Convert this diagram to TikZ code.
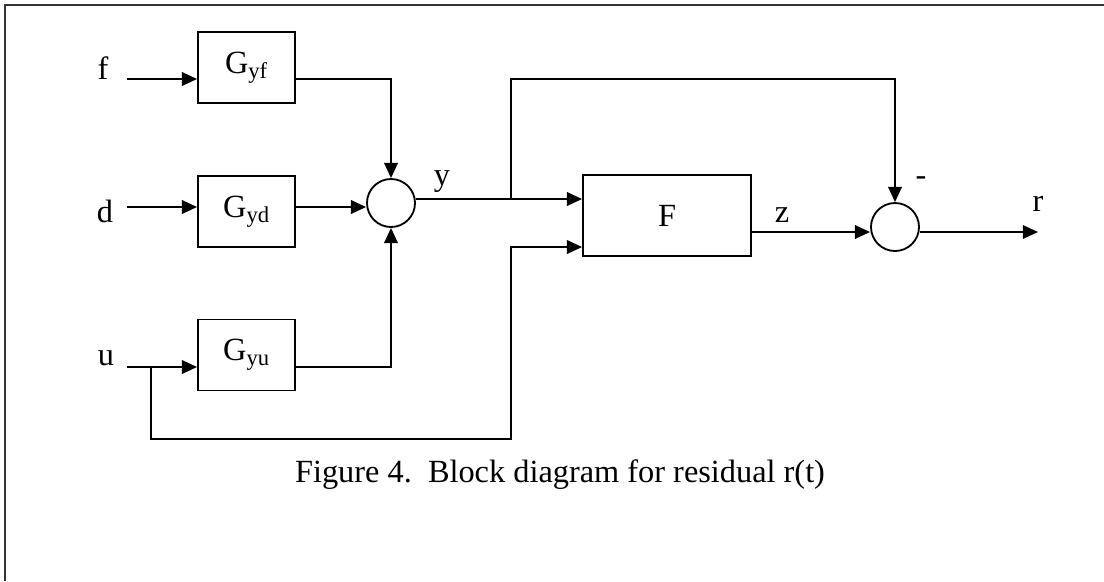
\documentclass[tikz,border=0pt]{standalone}
\usepackage{fontspec}
\setmainfont{Liberation Serif}
\usepackage{tikz}
\usetikzlibrary{arrows.meta,calc}
\definecolor{ink}{RGB}{0,0,0}
\tikzset{
  sig/.style={line width=1.3pt,ink,-{Triangle[length=3.8mm,width=3.4mm]}},
  frame/.style={line width=1.5pt,ink!80},
  blockbox/.style={draw=ink,line width=1.3pt,minimum width=2.425cm,
    minimum height=1.775cm,inner sep=0pt,font=\fontsize{23}{27}\selectfont},
  sumnode/.style={circle,draw=ink,line width=1.3pt,minimum size=1.2cm,inner sep=0pt},
  label/.style={font=\fontsize{23}{27}\selectfont,text=ink,inner sep=0pt}
}

\begin{document}
\begin{tikzpicture}[x=0.025cm,y=-0.025cm]
  \useasboundingbox (0,0) rectangle (1104,581);
  \draw[frame] (5,581) |- (1104,5);
  % blocks
  \node[blockbox] (gyf) at (246.5,67.5) {G\textsubscript{yf}};
  \node[blockbox] (gyd) at (246.5,211.5) {G\textsubscript{yd}};
  \node[blockbox] (gyu) at (246.5,355) {G\textsubscript{yu}};
  \node[blockbox,minimum width=4.2cm,minimum height=2.025cm] (filt) at (667,215.5) {F};
  \node[sumnode] (sum1) at (391,203) {};
  \node[sumnode] (sum2) at (895,227) {};
  % signal names
  \node[label] (lf) at (103,68) {f};
  \node[label] (ld) at (105,211) {d};
  \node[label] (lu) at (106,358) {u};
  \node[label] (ly) at (442,182) {y};
  \node[label] (lz) at (782,215) {z};
  \node[label] (lr) at (1038,204) {r};
  \node[label] (lminus) at (921,181) {-};
  \coordinate (fin) at (127,79);
  \coordinate (din) at (127,207);
  \coordinate (uin) at (127,367);
  \coordinate (ubr) at (151,367);
  \coordinate (ybr) at (511,199);
  \coordinate (ulow) at (511,439);
  \coordinate (zout) at (751,232);
  \coordinate (rout) at (1038,232);
  % inputs
  \draw[sig] (fin) -- (fin -| gyf.west);
  \draw[sig] (din) -- (din -| gyd.west);
  \draw[sig] (uin) -- (uin -| gyu.west);
  \draw[sig] (fin -| gyf.east) -| (sum1.north);
  \draw[sig] (din -| gyd.east) -- (din -| sum1.west);
  \draw[sig] (uin -| gyu.east) -| (sum1.south);
  % y into F and around to the second sum
  \draw[sig] (ybr -| sum1.east) -- (ybr -| filt.west);
  \draw[sig] (ybr) -- (ybr |- fin) -| (sum2.north);
  \draw[sig] (ubr) |- (ulow) |- ($(filt.west)+(0,31.5)$);
  \draw[sig] (zout) -- (zout -| sum2.west);
  \draw[sig] (rout -| sum2.east) -- (rout);
  \node[label] (caption) at (560,475) {Figure 4.\ \ Block diagram for residual r(t)};
\end{tikzpicture}
\end{document}
